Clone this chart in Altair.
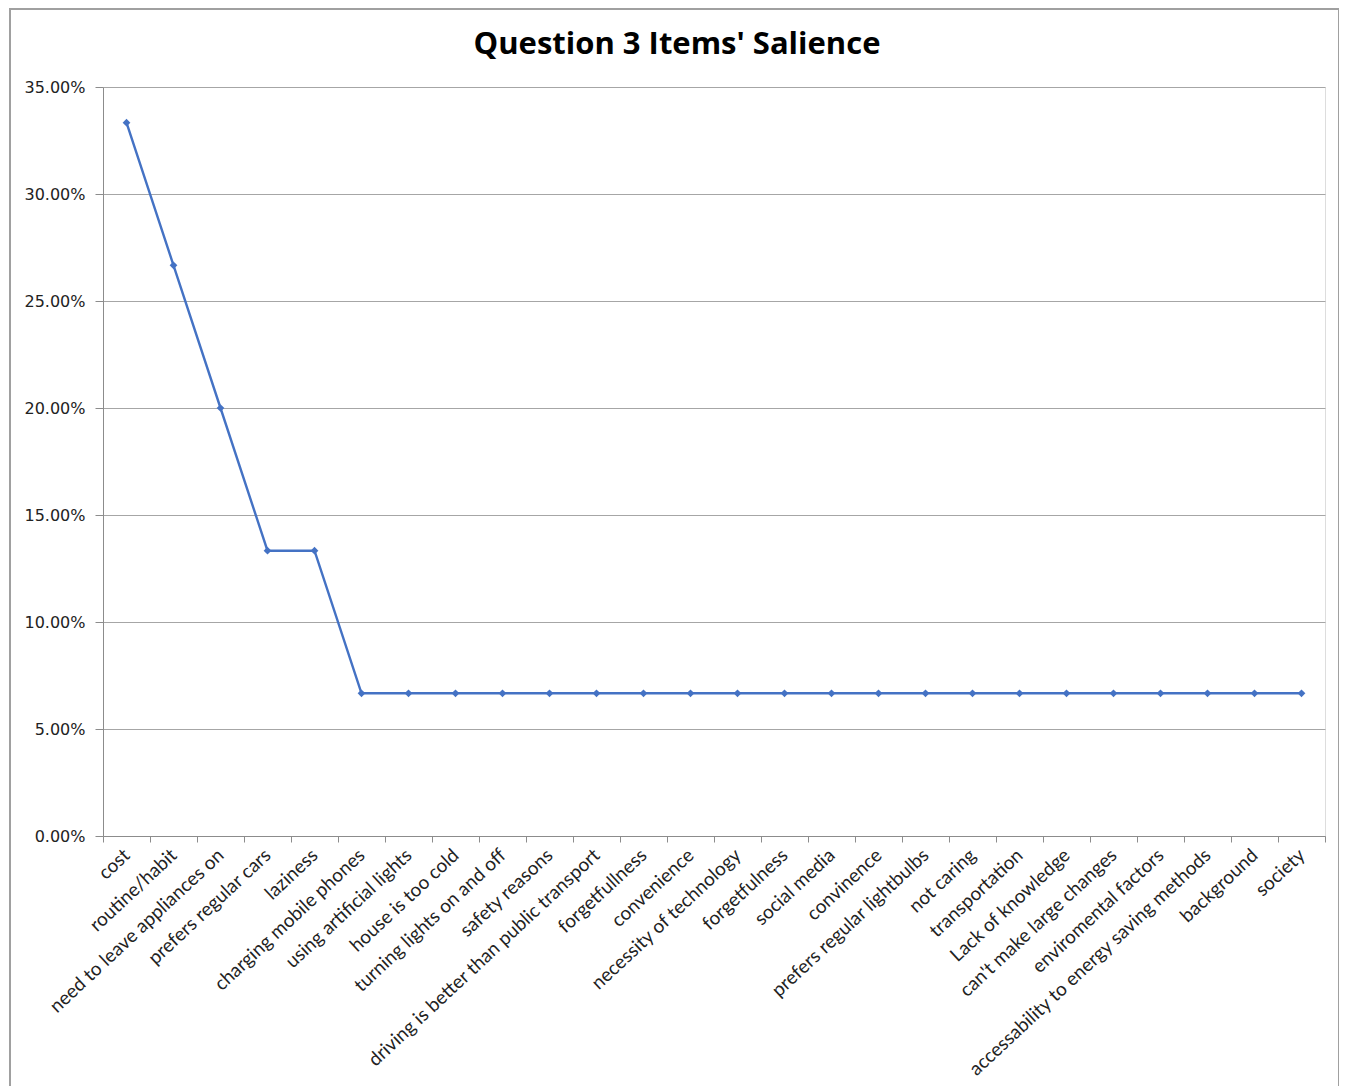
import altair as alt
import pandas as pd

categories = [
    "cost", "routine/habit", "need to leave appliances on", "prefers regular cars",
    "laziness", "charging mobile phones", "using artificial lights", "house is too cold",
    "turning lights on and off", "safety reasons", "driving is better than public transport",
    "forgetfullness", "convenience", "necessity of technology", "forgetfulness",
    "social media", "convinence", "prefers regular lightbulbs", "not caring",
    "transportation", "Lack of knowledge", "can't make large changes",
    "enviromental factors", "accessability to energy saving methods", "background", "society",
]
values = [
    0.3333, 0.2667, 0.2000, 0.1333, 0.1333, 0.0667, 0.0667, 0.0667, 0.0667, 0.0667,
    0.0667, 0.0667, 0.0667, 0.0667, 0.0667, 0.0667, 0.0667, 0.0667, 0.0667, 0.0667,
    0.0667, 0.0667, 0.0667, 0.0667, 0.0667, 0.0667,
]
y_ticks = [0, 0.05, 0.10, 0.15, 0.20, 0.25, 0.30, 0.35]

W, H = 1222, 749
df = pd.DataFrame({"item": categories, "share": values})

x = alt.X(
    "item:N",
    sort=categories,
    scale=alt.Scale(type="band", paddingInner=0, paddingOuter=0),
    axis=alt.Axis(
        title=None,
        labelAngle=-43,
        labelAlign="right",
        labelBaseline="middle",
        labelFont="Lato",
        labelFontSize=19,
        labelColor="#222222",
        labelPadding=10,
        labelLimit=0,
        tickBand="extent",
        tickSize=6,
        tickColor="#8c8c8c",
        domainColor="#8c8c8c",
        grid=False,
        labelOverlap=False,
    ),
)
y = alt.Y(
    "share:Q",
    scale=alt.Scale(domain=[0, 0.35], nice=False),
    axis=alt.Axis(
        title=None,
        values=y_ticks,
        format=".2%",
        labelFont="DejaVu Sans",
        labelFontSize=16,
        labelColor="#222222",
        labelPadding=10,
        tickSize=8,
        tickColor="#8c8c8c",
        domainColor="#8c8c8c",
        gridColor="#a6a6a6",
        gridWidth=1,
    ),
)

line = alt.Chart(df).mark_line(
    color="#4472C4", strokeWidth=2.4,
    point=alt.OverlayMarkDef(shape="diamond", size=60, color="#4472C4", filled=True),
).encode(x=x, y=y)

border = alt.Chart(alt.Data(values=[{}])).mark_rect(
    fill=None, stroke="#a0a0a0", strokeWidth=2
).encode(
    x=alt.value(-93), x2=alt.value(W + 14),
    y=alt.value(-78), y2=alt.value(H + 262),
)

chart = alt.layer(border, line).properties(
    width=W,
    height=H,
    title=alt.TitleParams(
        "Question 3 Items' Salience",
        font="Open Sans",
        fontSize=31,
        fontWeight="bold",
        color="#000000",
        anchor="middle",
        frame="group",
        offset=-53,
        dx=-37,
    ),
    padding={"left": 95, "top": 79, "right": 14, "bottom": 250},
    autosize=alt.AutoSizeParams(type="none"),
).configure_view(stroke=None).configure(background="white")

chart.save("out.html", embed_options={"renderer": "svg", "actions": False})
